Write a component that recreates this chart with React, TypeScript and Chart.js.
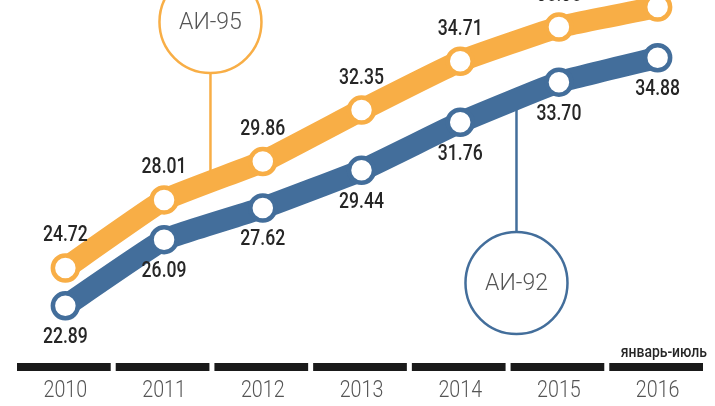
import React, { useEffect, useRef } from "react";
import { Chart, registerables } from "chart.js";

Chart.register(...registerables);

const years = ["2010", "2011", "2012", "2013", "2014", "2015", "2016"];
const ai95 = [24.72, 28.01, 29.86, 32.35, 34.71, 36.36, 37.33];
const ai92 = [22.89, 26.09, 27.62, 29.44, 31.76, 33.7, 34.88];
const ai95Name = "АИ-95";
const ai92Name = "АИ-92";
const periodNote = "январь-июль";

const ORANGE = "#F8AE46";
const BLUE = "#436E9B";

function narrowText(ctx: any, text: string, x: number, y: number, sx: number, align: string) {
  ctx.save();
  ctx.translate(x, y);
  ctx.scale(sx, 1);
  ctx.textAlign = align;
  ctx.fillText(text, 0, 0);
  ctx.restore();
}

const decorPlugin = {
  id: "decor",
  beforeDatasetsDraw(chart: any) {
    const { ctx, scales } = chart;
    const x = scales.x;
    ctx.save();
    ctx.lineWidth = 2.5;
    ctx.strokeStyle = ORANGE;
    const x95 = x.getPixelForValue(1.47);
    ctx.beginPath();
    ctx.moveTo(x95, 73);
    ctx.lineTo(x95, 175);
    ctx.stroke();
    ctx.strokeStyle = BLUE;
    const x92 = x.getPixelForValue(4.57);
    ctx.beginPath();
    ctx.moveTo(x92, 232);
    ctx.lineTo(x92, 105);
    ctx.stroke();
    ctx.restore();
  },
  afterDatasetsDraw(chart: any) {
    const { ctx, chartArea, scales } = chart;
    const x = scales.x;
    const y = scales.y;
    ctx.save();
    const circ = (cx: number, cy: number, color: string, text: string) => {
      ctx.beginPath();
      ctx.arc(cx, cy, 51, 0, Math.PI * 2);
      ctx.fillStyle = "#fff";
      ctx.fill();
      ctx.lineWidth = 2.5;
      ctx.strokeStyle = color;
      ctx.stroke();
      ctx.fillStyle = "#555";
      ctx.font = '300 23px Roboto, "Open Sans", sans-serif';
      ctx.textAlign = "center";
      ctx.textBaseline = "middle";
      ctx.fillText(text, cx, cy + 1);
    };
    circ(x.getPixelForValue(1.47), 22, ORANGE, ai95Name);
    circ(x.getPixelForValue(4.57), 283, BLUE, ai92Name);

    // value labels
    ctx.font = "500 22px Roboto, sans-serif";
    ctx.fillStyle = "#262626";
    ctx.textBaseline = "middle";
    ai95.forEach((v, i) => {
      narrowText(ctx, v.toFixed(2), x.getPixelForValue(i), y.getPixelForValue(v) - 32, 0.8, "center");
    });
    ai92.forEach((v, i) => {
      narrowText(ctx, v.toFixed(2), x.getPixelForValue(i), y.getPixelForValue(v) + 32, 0.8, "center");
    });

    // axis bars
    const w = x.getPixelForValue(1) - x.getPixelForValue(0);
    ctx.fillStyle = "#1a1a1a";
    years.forEach((_, i) => {
      const c = x.getPixelForValue(i);
      ctx.fillRect(c - w / 2 + 1, 363, w - 5, 8);
    });
    // year labels
    ctx.font = "300 24px Roboto, sans-serif";
    ctx.fillStyle = "#555";
    ctx.textBaseline = "middle";
    years.forEach((t, i) => {
      narrowText(ctx, t, x.getPixelForValue(i), 391, 0.82, "center");
    });
    // note
    ctx.font = "500 17px Roboto, sans-serif";
    ctx.fillStyle = "#262626";
    ctx.textBaseline = "alphabetic";
    narrowText(ctx, periodNote, chartArea.right, 357, 0.82, "right");
    ctx.restore();
  },
};

export default function App() {
  const ref = useRef<HTMLCanvasElement>(null);
  useEffect(() => {
    if (!ref.current) return;
    const common = {
      borderWidth: 22,
      pointRadius: 12.5,
      pointBorderWidth: 4.5,
      pointBackgroundColor: "#fff",
      pointHoverRadius: 12.5,
      tension: 0.1,
      clip: false as any,
    };
    const chart = new Chart(ref.current, {
      type: "line",
      data: {
        labels: years,
        datasets: [
          { ...common, label: ai95Name, data: ai95, borderColor: ORANGE, pointBorderColor: ORANGE },
          { ...common, label: ai92Name, data: ai92, borderColor: BLUE, pointBorderColor: BLUE },
        ],
      },
      options: {
        animation: false,
        responsive: false,
        layout: { autoPadding: false, padding: { left: 16, right: 8, top: 0, bottom: 66 } },
        plugins: { legend: { display: false }, tooltip: { enabled: false } },
        scales: {
          x: { display: false, offset: true },
          y: { display: false, min: 21.24, max: 37.67 },
        },
      },
      plugins: [decorPlugin],
    });
    return () => chart.destroy();
  }, []);
  return (
    <div style={{ position: "fixed", left: 0, top: 0, width: 715, height: 406, background: "#fff" }}>
      <canvas ref={ref} width={715} height={406} style={{ width: 715, height: 406 }} />
    </div>
  );
}
